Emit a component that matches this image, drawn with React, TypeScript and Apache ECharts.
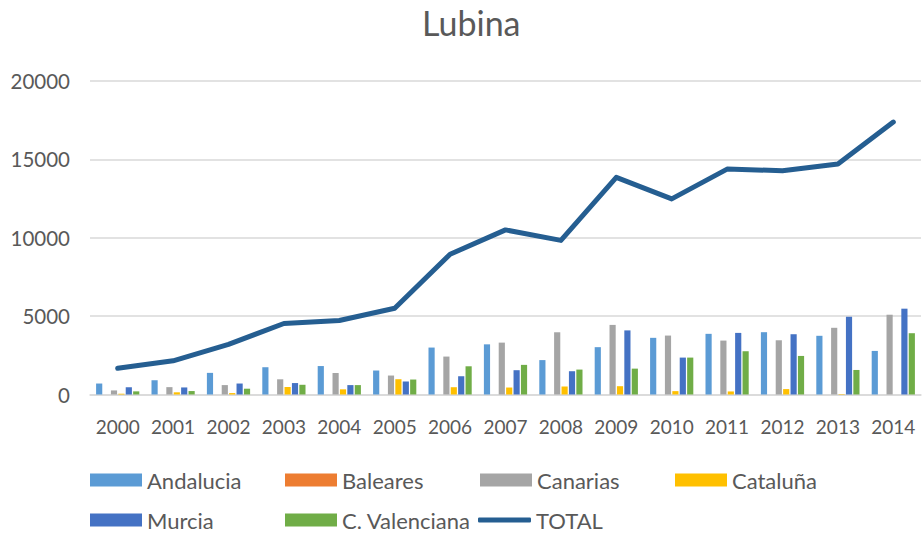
import React, { useEffect, useRef } from "react";
import * as echarts from "echarts";

const years = ["2000","2001","2002","2003","2004","2005","2006","2007","2008","2009","2010","2011","2012","2013","2014"];
const andalucia = [700, 910, 1380, 1740, 1815, 1530, 2995, 3200, 2195, 3020, 3615, 3870, 3975, 3745, 2780];
const baleares = [0, 0, 0, 0, 0, 0, 0, 0, 0, 0, 0, 0, 0, 0, 0];
const canarias = [260, 470, 600, 970, 1370, 1210, 2420, 3310, 3970, 4440, 3760, 3440, 3460, 4255, 5090];
const cataluna = [50, 140, 90, 480, 330, 975, 465, 445, 510, 530, 215, 195, 345, 30, 0];
const murcia = [470, 450, 700, 730, 600, 830, 1165, 1550, 1485, 4090, 2355, 3930, 3845, 4960, 5475];
const valenciana = [200, 220, 370, 620, 600, 955, 1800, 1890, 1590, 1650, 2355, 2760, 2460, 1565, 3910];
const total = [1670, 2150, 3200, 4530, 4720, 5500, 8950, 10500, 9830, 13850, 12480, 14380, 14280, 14700, 17380];

const FONT = "Lato";
const TXT = "#595959";

export default function App() {
  const ref = useRef<HTMLDivElement>(null);
  useEffect(() => {
    if (!ref.current) return;
    const chart = echarts.init(ref.current, undefined, { renderer: "svg" });
    const barSeries = [
      { name: "Andalucia", data: andalucia, color: "#5B9BD5" },
      { name: "Baleares", data: baleares, color: "#ED7D31" },
      { name: "Canarias", data: canarias, color: "#A5A5A5" },
      { name: "Cataluña", data: cataluna, color: "#FFC000" },
      { name: "Murcia", data: murcia, color: "#4472C4" },
      { name: "C. Valenciana", data: valenciana, color: "#70AD47" },
    ];
    const legendPos: [string, number, number][] = [
      ["Andalucia", 90, 469],
      ["Baleares", 285, 469],
      ["Canarias", 480, 469],
      ["Cataluña", 675, 469],
      ["Murcia", 90, 509],
      ["C. Valenciana", 285, 509],
    ];
    const legends: any[] = legendPos.map(([name, left, top]) => ({
      data: [name],
      left,
      top,
      padding: 0,
      itemWidth: 52,
      itemHeight: 13,
      itemGap: 0,
      icon: "rect",
      textStyle: { color: TXT, fontFamily: FONT, fontSize: 22, lineHeight: 20 },
    }));
    legends.push({
      data: [{ name: "TOTAL", icon: "roundRect" }],
      left: 478,
      top: 509,
      padding: 0,
      itemWidth: 53,
      itemHeight: 5,
      itemStyle: { color: "#255E91" },
      textStyle: { color: TXT, fontFamily: FONT, fontSize: 22, lineHeight: 20 },
    });
    chart.setOption({
      animation: false,
      title: {
        text: "Lubina",
        left: 422,
        top: 5,
        padding: 0,
        textStyle: { color: TXT, fontFamily: FONT, fontSize: 34, fontWeight: "normal" },
      },
      legend: legends,
      grid: { left: 90, right: 1, top: 81, bottom: 138.5 },
      xAxis: {
        type: "category",
        data: years,
        axisTick: { show: false },
        axisLine: { lineStyle: { color: "#D9D9D9", width: 1.5 } },
        axisLabel: { color: TXT, fontFamily: FONT, fontSize: 19, margin: 22, interval: 0 },
      },
      yAxis: {
        type: "value",
        min: 0,
        max: 20000,
        interval: 5000,
        axisLine: { show: false },
        axisTick: { show: false },
        splitLine: { lineStyle: { color: "#D9D9D9", width: 1.5 } },
        axisLabel: {
          color: TXT,
          fontFamily: FONT,
          fontSize: 20.5,
          margin: 20,
          formatter: (v: number) => String(v),
        },
      },
      series: [
        ...barSeries.map((s) => ({
          name: s.name,
          type: "bar",
          data: s.data,
          barCategoryGap: "22%",
          barGap: "20%",
          itemStyle: { color: s.color },
        })),
        {
          name: "TOTAL",
          type: "line",
          data: total,
          showSymbol: false,
          symbol: "none",
          lineStyle: { color: "#255E91", width: 5, cap: "round", join: "round" },
          itemStyle: { color: "#255E91" },
          z: 5,
        },
      ],
    });
    return () => chart.dispose();
  }, []);
  return (
    <div
      ref={ref}
      style={{ position: "absolute", left: 0, top: 0, width: 922, height: 533, background: "#fff" }}
    />
  );
}
